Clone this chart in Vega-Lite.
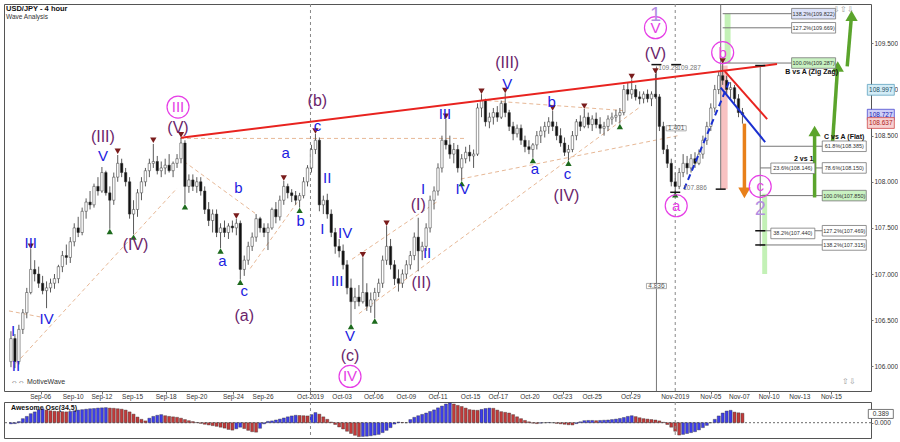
{
"$schema": "https://vega.github.io/schema/vega-lite/v6.json",
"background": "white",
"padding": {"left": 3, "top": 3, "right": 0, "bottom": 0},
"bounds": "flush",
"spacing": 11,
"config": {"font": "Liberation Sans", "view": {"stroke": "#555", "strokeWidth": 1}, "axis": {"labelFont": "Liberation Sans", "grid": false}},
"datasets": {
"bars": [
{"t":0,"o":106.05,"h":106.38,"l":105.99,"c":106.30,"ao":-0.05},
{"t":1,"o":106.30,"h":106.35,"l":105.98,"c":106.05,"ao":-0.04},
{"t":2,"o":106.05,"h":106.45,"l":106.02,"c":106.40,"ao":0.05},
{"t":3,"o":106.40,"h":106.62,"l":106.35,"c":106.58,"ao":0.18},
{"t":4,"o":106.58,"h":106.85,"l":106.52,"c":106.80,"ao":0.28},
{"t":5,"o":106.80,"h":107.27,"l":106.78,"c":107.05,"ao":0.40},
{"t":6,"o":107.05,"h":107.15,"l":106.92,"c":107.00,"ao":0.48},
{"t":7,"o":107.00,"h":107.08,"l":106.85,"c":106.90,"ao":0.58},
{"t":8,"o":106.90,"h":106.98,"l":106.78,"c":106.82,"ao":0.62},
{"t":9,"o":106.82,"h":106.92,"l":106.63,"c":106.85,"ao":0.56},
{"t":10,"o":106.85,"h":106.95,"l":106.80,"c":106.90,"ao":0.53},
{"t":11,"o":106.90,"h":107.00,"l":106.84,"c":106.95,"ao":0.51},
{"t":12,"o":106.95,"h":107.10,"l":106.90,"c":107.08,"ao":0.50},
{"t":13,"o":107.08,"h":107.25,"l":107.02,"c":107.20,"ao":0.49},
{"t":14,"o":107.20,"h":107.32,"l":107.10,"c":107.18,"ao":0.48},
{"t":15,"o":107.18,"h":107.40,"l":107.12,"c":107.35,"ao":0.50},
{"t":16,"o":107.35,"h":107.55,"l":107.30,"c":107.50,"ao":0.53},
{"t":17,"o":107.50,"h":107.62,"l":107.40,"c":107.45,"ao":0.56},
{"t":18,"o":107.45,"h":107.72,"l":107.42,"c":107.68,"ao":0.58},
{"t":19,"o":107.68,"h":107.82,"l":107.60,"c":107.78,"ao":0.60},
{"t":20,"o":107.78,"h":107.90,"l":107.70,"c":107.75,"ao":0.62},
{"t":21,"o":107.75,"h":107.98,"l":107.72,"c":107.95,"ao":0.63},
{"t":22,"o":107.95,"h":108.05,"l":107.85,"c":107.90,"ao":0.65},
{"t":23,"o":107.90,"h":108.16,"l":107.88,"c":108.10,"ao":0.66},
{"t":24,"o":108.10,"h":108.12,"l":107.85,"c":107.88,"ao":0.67},
{"t":25,"o":107.88,"h":107.95,"l":107.49,"c":107.80,"ao":0.65},
{"t":26,"o":107.80,"h":108.10,"l":107.75,"c":108.05,"ao":0.64},
{"t":27,"o":108.05,"h":108.29,"l":108.00,"c":108.20,"ao":0.62},
{"t":28,"o":108.20,"h":108.25,"l":108.05,"c":108.10,"ao":0.60},
{"t":29,"o":108.10,"h":108.15,"l":107.95,"c":108.00,"ao":0.56},
{"t":30,"o":108.00,"h":108.05,"l":107.60,"c":107.65,"ao":0.48},
{"t":31,"o":107.65,"h":107.80,"l":107.43,"c":107.70,"ao":0.38},
{"t":32,"o":107.70,"h":107.92,"l":107.62,"c":107.88,"ao":0.25},
{"t":33,"o":107.88,"h":108.05,"l":107.80,"c":108.00,"ao":0.15},
{"t":34,"o":108.00,"h":108.15,"l":107.95,"c":108.12,"ao":0.08},
{"t":35,"o":108.12,"h":108.25,"l":108.05,"c":108.20,"ao":0.20},
{"t":36,"o":108.20,"h":108.41,"l":108.15,"c":108.22,"ao":0.28},
{"t":37,"o":108.22,"h":108.28,"l":108.08,"c":108.12,"ao":0.33},
{"t":38,"o":108.12,"h":108.22,"l":108.05,"c":108.15,"ao":0.36},
{"t":39,"o":108.15,"h":108.25,"l":108.08,"c":108.18,"ao":0.31},
{"t":40,"o":108.18,"h":108.30,"l":108.10,"c":108.12,"ao":0.28},
{"t":41,"o":108.12,"h":108.22,"l":108.05,"c":108.20,"ao":0.26},
{"t":42,"o":108.20,"h":108.30,"l":108.15,"c":108.25,"ao":0.24},
{"t":43,"o":108.25,"h":108.48,"l":108.20,"c":108.42,"ao":0.20},
{"t":44,"o":108.42,"h":108.45,"l":107.76,"c":107.95,"ao":0.14},
{"t":45,"o":107.95,"h":108.08,"l":107.88,"c":108.02,"ao":0.09},
{"t":46,"o":108.02,"h":108.08,"l":107.90,"c":107.95,"ao":0.05},
{"t":47,"o":107.95,"h":108.05,"l":107.88,"c":108.00,"ao":0.01},
{"t":48,"o":108.00,"h":108.05,"l":107.85,"c":107.90,"ao":-0.03},
{"t":49,"o":107.90,"h":107.95,"l":107.65,"c":107.70,"ao":-0.07},
{"t":50,"o":107.70,"h":107.78,"l":107.52,"c":107.58,"ao":-0.10},
{"t":51,"o":107.58,"h":107.70,"l":107.45,"c":107.65,"ao":-0.13},
{"t":52,"o":107.65,"h":107.70,"l":107.40,"c":107.45,"ao":-0.16},
{"t":53,"o":107.45,"h":107.55,"l":107.28,"c":107.50,"ao":-0.20},
{"t":54,"o":107.50,"h":107.58,"l":107.40,"c":107.45,"ao":-0.24},
{"t":55,"o":107.45,"h":107.55,"l":107.38,"c":107.52,"ao":-0.30},
{"t":56,"o":107.52,"h":107.58,"l":107.45,"c":107.50,"ao":-0.33},
{"t":57,"o":107.50,"h":107.60,"l":107.42,"c":107.55,"ao":-0.27},
{"t":58,"o":107.55,"h":107.58,"l":106.94,"c":107.05,"ao":-0.20},
{"t":59,"o":107.05,"h":107.20,"l":106.98,"c":107.15,"ao":-0.26},
{"t":60,"o":107.15,"h":107.35,"l":107.10,"c":107.30,"ao":-0.34},
{"t":61,"o":107.30,"h":107.45,"l":107.25,"c":107.40,"ao":-0.40},
{"t":62,"o":107.40,"h":107.65,"l":107.35,"c":107.60,"ao":-0.42},
{"t":63,"o":107.60,"h":107.62,"l":107.45,"c":107.50,"ao":-0.25},
{"t":64,"o":107.50,"h":107.55,"l":107.40,"c":107.45,"ao":-0.05},
{"t":65,"o":107.45,"h":107.55,"l":107.26,"c":107.50,"ao":0.06},
{"t":66,"o":107.50,"h":107.72,"l":107.48,"c":107.70,"ao":0.08},
{"t":67,"o":107.70,"h":107.78,"l":107.55,"c":107.62,"ao":0.12},
{"t":68,"o":107.62,"h":107.85,"l":107.58,"c":107.80,"ao":0.16},
{"t":69,"o":107.80,"h":108.01,"l":107.75,"c":107.95,"ao":0.21},
{"t":70,"o":107.95,"h":107.98,"l":107.82,"c":107.88,"ao":0.26},
{"t":71,"o":107.88,"h":107.92,"l":107.78,"c":107.85,"ao":0.30},
{"t":72,"o":107.85,"h":107.90,"l":107.75,"c":107.80,"ao":0.33},
{"t":73,"o":107.80,"h":107.88,"l":107.72,"c":107.85,"ao":0.32},
{"t":74,"o":107.85,"h":108.05,"l":107.82,"c":108.00,"ao":0.31},
{"t":75,"o":108.00,"h":108.18,"l":107.95,"c":108.15,"ao":0.30},
{"t":76,"o":108.15,"h":108.40,"l":108.10,"c":108.35,"ao":0.36},
{"t":77,"o":108.35,"h":108.52,"l":108.30,"c":108.45,"ao":0.45},
{"t":78,"o":108.45,"h":108.48,"l":107.68,"c":107.75,"ao":0.38},
{"t":79,"o":107.75,"h":107.85,"l":107.65,"c":107.80,"ao":0.26},
{"t":80,"o":107.80,"h":107.87,"l":107.60,"c":107.65,"ao":0.15},
{"t":81,"o":107.65,"h":107.70,"l":107.40,"c":107.45,"ao":0.03},
{"t":82,"o":107.45,"h":107.50,"l":107.22,"c":107.30,"ao":-0.08},
{"t":83,"o":107.30,"h":107.38,"l":107.18,"c":107.25,"ao":-0.19},
{"t":84,"o":107.25,"h":107.32,"l":107.05,"c":107.10,"ao":-0.28},
{"t":85,"o":107.10,"h":107.15,"l":106.78,"c":106.85,"ao":-0.38},
{"t":86,"o":106.85,"h":106.95,"l":106.46,"c":106.70,"ao":-0.48},
{"t":87,"o":106.70,"h":106.85,"l":106.62,"c":106.75,"ao":-0.56},
{"t":88,"o":106.75,"h":106.88,"l":106.65,"c":106.70,"ao":-0.62},
{"t":89,"o":106.70,"h":107.18,"l":106.68,"c":106.80,"ao":-0.61},
{"t":90,"o":106.80,"h":106.90,"l":106.60,"c":106.65,"ao":-0.60},
{"t":91,"o":106.65,"h":106.80,"l":106.58,"c":106.72,"ao":-0.58},
{"t":92,"o":106.72,"h":106.85,"l":106.52,"c":106.80,"ao":-0.55},
{"t":93,"o":106.80,"h":106.95,"l":106.75,"c":106.90,"ao":-0.52},
{"t":94,"o":106.90,"h":107.20,"l":106.85,"c":107.15,"ao":-0.44},
{"t":95,"o":107.15,"h":107.52,"l":107.10,"c":107.30,"ao":-0.34},
{"t":96,"o":107.30,"h":107.38,"l":107.05,"c":107.10,"ao":-0.22},
{"t":97,"o":107.10,"h":107.15,"l":106.88,"c":106.95,"ao":-0.06},
{"t":98,"o":106.95,"h":107.05,"l":106.81,"c":106.90,"ao":0.03},
{"t":99,"o":106.90,"h":107.05,"l":106.85,"c":107.00,"ao":0.01},
{"t":100,"o":107.00,"h":107.15,"l":106.95,"c":107.10,"ao":0.00},
{"t":101,"o":107.10,"h":107.25,"l":107.05,"c":107.20,"ao":0.14},
{"t":102,"o":107.20,"h":107.45,"l":107.15,"c":107.40,"ao":0.24},
{"t":103,"o":107.40,"h":107.61,"l":107.03,"c":107.25,"ao":0.31},
{"t":104,"o":107.25,"h":107.35,"l":107.15,"c":107.30,"ao":0.37},
{"t":105,"o":107.30,"h":107.55,"l":107.25,"c":107.50,"ao":0.43},
{"t":106,"o":107.50,"h":107.85,"l":107.45,"c":107.80,"ao":0.50},
{"t":107,"o":107.80,"h":107.95,"l":107.70,"c":107.90,"ao":0.57},
{"t":108,"o":107.90,"h":108.20,"l":107.85,"c":108.15,"ao":0.66},
{"t":109,"o":108.15,"h":108.50,"l":108.10,"c":108.45,"ao":0.74},
{"t":110,"o":108.45,"h":108.68,"l":108.35,"c":108.40,"ao":0.83},
{"t":111,"o":108.40,"h":108.50,"l":108.25,"c":108.30,"ao":0.88},
{"t":112,"o":108.30,"h":108.42,"l":108.20,"c":108.35,"ao":0.83},
{"t":113,"o":108.35,"h":108.40,"l":108.10,"c":108.15,"ao":0.77},
{"t":114,"o":108.15,"h":108.30,"l":108.01,"c":108.25,"ao":0.72},
{"t":115,"o":108.25,"h":108.38,"l":108.20,"c":108.32,"ao":0.65},
{"t":116,"o":108.32,"h":108.40,"l":108.22,"c":108.28,"ao":0.58},
{"t":117,"o":108.28,"h":108.35,"l":108.15,"c":108.30,"ao":0.56},
{"t":118,"o":108.30,"h":108.85,"l":108.28,"c":108.80,"ao":0.55},
{"t":119,"o":108.80,"h":108.95,"l":108.70,"c":108.88,"ao":0.59},
{"t":120,"o":108.88,"h":108.90,"l":108.60,"c":108.65,"ao":0.63},
{"t":121,"o":108.65,"h":108.75,"l":108.58,"c":108.70,"ao":0.65},
{"t":122,"o":108.70,"h":108.80,"l":108.62,"c":108.75,"ao":0.64},
{"t":123,"o":108.75,"h":108.82,"l":108.65,"c":108.70,"ao":0.56},
{"t":124,"o":108.70,"h":108.88,"l":108.68,"c":108.85,"ao":0.49},
{"t":125,"o":108.85,"h":108.96,"l":108.70,"c":108.75,"ao":0.46},
{"t":126,"o":108.75,"h":108.78,"l":108.55,"c":108.60,"ao":0.43},
{"t":127,"o":108.60,"h":108.65,"l":108.45,"c":108.52,"ao":0.36},
{"t":128,"o":108.52,"h":108.62,"l":108.48,"c":108.58,"ao":0.26},
{"t":129,"o":108.58,"h":108.62,"l":108.40,"c":108.45,"ao":0.18},
{"t":130,"o":108.45,"h":108.50,"l":108.32,"c":108.38,"ao":0.10},
{"t":131,"o":108.38,"h":108.45,"l":108.30,"c":108.35,"ao":0.04},
{"t":132,"o":108.35,"h":108.42,"l":108.26,"c":108.40,"ao":-0.02},
{"t":133,"o":108.40,"h":108.55,"l":108.35,"c":108.50,"ao":-0.04},
{"t":134,"o":108.50,"h":108.60,"l":108.42,"c":108.55,"ao":-0.02},
{"t":135,"o":108.55,"h":108.65,"l":108.48,"c":108.60,"ao":0.00},
{"t":136,"o":108.60,"h":108.70,"l":108.52,"c":108.65,"ao":0.01},
{"t":137,"o":108.65,"h":108.77,"l":108.55,"c":108.60,"ao":0.00},
{"t":138,"o":108.60,"h":108.65,"l":108.45,"c":108.50,"ao":-0.03},
{"t":139,"o":108.50,"h":108.58,"l":108.38,"c":108.42,"ao":-0.05},
{"t":140,"o":108.42,"h":108.48,"l":108.28,"c":108.32,"ao":-0.07},
{"t":141,"o":108.32,"h":108.40,"l":108.23,"c":108.35,"ao":-0.09},
{"t":142,"o":108.35,"h":108.55,"l":108.32,"c":108.50,"ao":-0.10},
{"t":143,"o":108.50,"h":108.68,"l":108.45,"c":108.65,"ao":-0.04},
{"t":144,"o":108.65,"h":108.72,"l":108.55,"c":108.60,"ao":0.04},
{"t":145,"o":108.60,"h":108.79,"l":108.58,"c":108.70,"ao":0.09},
{"t":146,"o":108.70,"h":108.75,"l":108.58,"c":108.62,"ao":0.10},
{"t":147,"o":108.62,"h":108.72,"l":108.55,"c":108.68,"ao":0.10},
{"t":148,"o":108.68,"h":108.75,"l":108.58,"c":108.62,"ao":0.09},
{"t":149,"o":108.62,"h":108.70,"l":108.52,"c":108.58,"ao":0.10},
{"t":150,"o":108.58,"h":108.65,"l":108.50,"c":108.60,"ao":0.11},
{"t":151,"o":108.60,"h":108.72,"l":108.55,"c":108.68,"ao":0.12},
{"t":152,"o":108.68,"h":108.75,"l":108.62,"c":108.70,"ao":0.14},
{"t":153,"o":108.70,"h":108.78,"l":108.65,"c":108.72,"ao":0.16},
{"t":154,"o":108.72,"h":108.80,"l":108.63,"c":108.75,"ao":0.19},
{"t":155,"o":108.75,"h":109.05,"l":108.72,"c":109.00,"ao":0.23},
{"t":156,"o":109.00,"h":109.08,"l":108.88,"c":108.95,"ao":0.28},
{"t":157,"o":108.95,"h":109.11,"l":108.90,"c":109.00,"ao":0.31},
{"t":158,"o":109.00,"h":109.05,"l":108.88,"c":108.92,"ao":0.27},
{"t":159,"o":108.92,"h":108.98,"l":108.84,"c":108.90,"ao":0.22},
{"t":160,"o":108.90,"h":108.98,"l":108.85,"c":108.95,"ao":0.18},
{"t":161,"o":108.95,"h":109.00,"l":108.86,"c":108.90,"ao":0.16},
{"t":162,"o":108.90,"h":108.98,"l":108.82,"c":108.95,"ao":0.14},
{"t":163,"o":108.95,"h":109.17,"l":108.90,"c":108.92,"ao":0.12},
{"t":164,"o":108.92,"h":108.95,"l":108.55,"c":108.60,"ao":0.08},
{"t":165,"o":108.60,"h":108.65,"l":108.30,"c":108.35,"ao":0.02},
{"t":166,"o":108.35,"h":108.40,"l":108.15,"c":108.20,"ao":-0.08},
{"t":167,"o":108.20,"h":108.25,"l":107.95,"c":108.00,"ao":-0.20},
{"t":168,"o":108.00,"h":108.10,"l":107.886,"c":107.95,"ao":-0.38},
{"t":169,"o":107.95,"h":108.15,"l":107.92,"c":108.10,"ao":-0.55},
{"t":170,"o":108.10,"h":108.30,"l":108.05,"c":108.20,"ao":-0.52},
{"t":171,"o":108.20,"h":108.28,"l":108.08,"c":108.15,"ao":-0.48},
{"t":172,"o":108.15,"h":108.30,"l":108.10,"c":108.25,"ao":-0.44},
{"t":173,"o":108.25,"h":108.32,"l":108.15,"c":108.20,"ao":-0.40},
{"t":174,"o":108.20,"h":108.35,"l":108.18,"c":108.30,"ao":-0.32},
{"t":175,"o":108.30,"h":108.50,"l":108.25,"c":108.45,"ao":-0.22},
{"t":176,"o":108.45,"h":108.65,"l":108.40,"c":108.60,"ao":-0.12},
{"t":177,"o":108.60,"h":108.85,"l":108.55,"c":108.80,"ao":0.00},
{"t":178,"o":108.80,"h":109.05,"l":108.75,"c":109.00,"ao":0.15},
{"t":179,"o":109.00,"h":109.20,"l":108.95,"c":109.15,"ao":0.30},
{"t":180,"o":109.15,"h":109.287,"l":109.05,"c":109.10,"ao":0.43},
{"t":181,"o":109.10,"h":109.15,"l":108.95,"c":109.00,"ao":0.52},
{"t":182,"o":109.00,"h":109.08,"l":108.90,"c":109.02,"ao":0.55},
{"t":183,"o":109.02,"h":109.05,"l":108.85,"c":108.90,"ao":0.47},
{"t":184,"o":108.90,"h":108.95,"l":108.70,"c":108.75,"ao":0.44},
{"t":185,"o":108.75,"h":108.80,"l":108.63,"c":108.727,"ao":0.42}
],
"dates": [
{"t":7.5,"label":"Sep-06"},{"t":15.75,"label":"Sep-10"},{"t":23,"label":"Sep-12"},{"t":30.75,"label":"Sep-15"},{"t":39.25,"label":"Sep-18"},{"t":47,"label":"Sep-20"},{"t":56.25,"label":"Sep-24"},{"t":63.75,"label":"Sep-26"},{"t":75.75,"label":"Oct-2019"},{"t":83.75,"label":"Oct-03"},{"t":91.75,"label":"Oct-06"},{"t":100,"label":"Oct-09"},{"t":108,"label":"Oct-11"},{"t":116.25,"label":"Oct-15"},{"t":123.25,"label":"Oct-17"},{"t":131.25,"label":"Oct-20"},{"t":139.5,"label":"Oct-23"},{"t":147,"label":"Oct-25"},{"t":156.75,"label":"Oct-29"},{"t":168,"label":"Nov-2019"},{"t":177,"label":"Nov-05"},{"t":184.25,"label":"Nov-07"},{"t":191.75,"label":"Nov-10"},{"t":199.5,"label":"Nov-13"},{"t":207.5,"label":"Nov-15"}
],
"bands": [
{"t":179.5,"t2":181.25,"v":109.26,"v2":107.92,"zone":"retrace"},
{"t":180.5,"t2":182,"v":109.822,"v2":109.287,"zone":"target"},
{"t":190,"t2":191.25,"v":107.87,"v2":107.0,"zone":"target"}
],
"channels": [
{"t":1.25,"v":106.03,"t2":42,"v2":107.93},
{"t":-0.5,"v":106.60,"t2":8,"v2":106.53},
{"t":43.75,"v":108.22,"t2":62,"v2":107.65},
{"t":60.5,"v":107.06,"t2":73.75,"v2":107.86},
{"t":42.75,"v":108.47,"t2":115,"v2":108.47},
{"t":88,"v":106.57,"t2":158.75,"v2":108.80},
{"t":113.75,"v":108.03,"t2":168.75,"v2":108.50},
{"t":120.5,"v":108.88,"t2":155.5,"v2":108.77},
{"t":86.25,"v":107.16,"t2":108,"v2":107.79}
],
"months": [{"t":75.75,"label":"Oct-2019"},{"t":168,"label":"Nov-2019"}],
"fibLines": [
{"t":179.5,"t2":179.5,"v":109.92,"v2":107.92},
{"t":180,"t2":197.5,"v":109.822,"v2":109.822},
{"t":180,"t2":197.5,"v":109.669,"v2":109.669},
{"t":180,"t2":197.5,"v":109.287,"v2":109.287},
{"t":189.5,"t2":189.5,"v":109.26,"v2":107.30},
{"t":189.5,"t2":205.75,"v":108.385,"v2":108.385},
{"t":189.5,"t2":205.75,"v":108.150,"v2":108.150},
{"t":189.5,"t2":205.75,"v":107.850,"v2":107.850},
{"t":189.5,"t2":205.75,"v":107.469,"v2":107.469},
{"t":189.5,"t2":205.75,"v":107.315,"v2":107.315},
{"t":163.25,"t2":163.25,"v":109.25,"v2":105.73}
],
"trend": [
{"t":43,"v":108.478,"t2":193.75,"v2":109.276,"role":"resistance"},
{"t":180.5,"v":109.20,"t2":191.25,"v2":108.68,"role":"resistance"},
{"t":179.5,"v":109.02,"t2":190.75,"v2":108.43,"role":"channel"}
],
"trendDash": [{"t":170.25,"v":107.92,"t2":182,"v2":109.12}],
"arrows": [
{"t":185.5,"v":108.63,"t2":185.5,"v2":107.93,"ht":185.5,"hv":107.88,"dir":"down"},
{"t":203.25,"v":107.83,"t2":203.25,"v2":108.50,"ht":203.25,"hv":108.55,"dir":"up"},
{"t":207.75,"v":108.40,"t2":209.0,"v2":109.20,"ht":209.1,"hv":109.25,"dir":"up"},
{"t":211.5,"v":109.25,"t2":212.5,"v2":109.76,"ht":212.6,"hv":109.80,"dir":"up"}
],
"pivots": [
{"t":5,"v":107.30,"type":"high"},{"t":27,"v":108.33,"type":"high"},{"t":36,"v":108.45,"type":"high"},{"t":43,"v":108.51,"type":"high"},{"t":57,"v":107.63,"type":"high"},{"t":69,"v":108.04,"type":"high"},{"t":77,"v":108.55,"type":"high"},{"t":89,"v":107.21,"type":"high"},{"t":95,"v":107.55,"type":"high"},{"t":110,"v":108.71,"type":"high"},{"t":119,"v":108.98,"type":"high"},{"t":125,"v":108.99,"type":"high"},{"t":137,"v":108.80,"type":"high"},{"t":145,"v":108.82,"type":"high"},{"t":157,"v":109.14,"type":"high"},{"t":163,"v":109.20,"type":"high"},{"t":180,"v":109.31,"type":"high"},
{"t":25,"v":107.46,"type":"low"},{"t":31,"v":107.40,"type":"low"},{"t":44,"v":107.73,"type":"low"},{"t":53,"v":107.25,"type":"low"},{"t":58,"v":106.91,"type":"low"},{"t":73,"v":107.69,"type":"low"},{"t":86,"v":106.43,"type":"low"},{"t":92,"v":106.49,"type":"low"},{"t":114,"v":107.98,"type":"low"},{"t":132,"v":108.23,"type":"low"},{"t":141,"v":108.20,"type":"low"},{"t":154,"v":108.60,"type":"low"},{"t":168,"v":107.86,"type":"low"}
],
"ibeams": [
{"t":189.5,"v":109.26},{"t":189.5,"v":107.469},{"t":189.5,"v":107.315},{"t":179.5,"v":107.92},{"t":168,"v":107.886},{"t":163.25,"v":109.27},{"t":168.25,"v":109.27}
],
"waves": [
{"t":0.5,"v":106.38,"label":"I","degree":"minor"},
{"t":1.25,"v":106.0,"label":"II","degree":"minor"},
{"t":5,"v":107.34,"label":"III","degree":"minor"},
{"t":9,"v":106.51,"label":"IV","degree":"minor"},
{"t":23.25,"v":108.28,"label":"V","degree":"minor"},
{"t":53.5,"v":107.14,"label":"a","degree":"minor"},
{"t":57.5,"v":107.93,"label":"b","degree":"minor"},
{"t":59,"v":106.82,"label":"c","degree":"minor"},
{"t":69.5,"v":108.31,"label":"a","degree":"minor"},
{"t":73.25,"v":107.57,"label":"b","degree":"minor"},
{"t":77.5,"v":108.60,"label":"c","degree":"minor"},
{"t":80,"v":108.04,"label":"II","degree":"minor"},
{"t":78.75,"v":107.49,"label":"I","degree":"minor"},
{"t":84.5,"v":107.44,"label":"IV","degree":"minor"},
{"t":82.5,"v":106.92,"label":"III","degree":"minor"},
{"t":85.75,"v":106.33,"label":"V","degree":"minor"},
{"t":104.25,"v":107.92,"label":"I","degree":"minor"},
{"t":105.25,"v":107.23,"label":"II","degree":"minor"},
{"t":109.75,"v":108.74,"label":"III","degree":"minor"},
{"t":114.25,"v":107.92,"label":"IV","degree":"minor"},
{"t":125.5,"v":109.06,"label":"V","degree":"minor"},
{"t":132.5,"v":108.14,"label":"a","degree":"minor"},
{"t":136.75,"v":108.87,"label":"b","degree":"minor"},
{"t":140.75,"v":108.08,"label":"c","degree":"minor"},
{"t":23.25,"v":108.48,"label":"(III)","degree":"intermediate"},
{"t":31.5,"v":107.31,"label":"(IV)","degree":"intermediate"},
{"t":42.25,"v":108.58,"label":"(V)","degree":"intermediate"},
{"t":59,"v":106.55,"label":"(a)","degree":"intermediate"},
{"t":77.5,"v":108.88,"label":"(b)","degree":"intermediate"},
{"t":85.75,"v":106.11,"label":"(c)","degree":"intermediate"},
{"t":103,"v":107.75,"label":"(I)","degree":"intermediate"},
{"t":103.75,"v":106.90,"label":"(II)","degree":"intermediate"},
{"t":125.5,"v":109.29,"label":"(III)","degree":"intermediate"},
{"t":140.5,"v":107.85,"label":"(IV)","degree":"intermediate"},
{"t":163,"v":109.39,"label":"(V)","degree":"intermediate"},
{"t":42.25,"v":108.81,"label":"III","degree":"primary"},
{"t":85.75,"v":105.89,"label":"IV","degree":"primary"},
{"t":163,"v":109.67,"label":"V","degree":"primary"},
{"t":180,"v":109.40,"label":"b","degree":"primary"},
{"t":168.25,"v":107.74,"label":"a","degree":"primary"},
{"t":189.5,"v":107.95,"label":"c","degree":"primary"},
{"t":163,"v":109.81,"label":"1","degree":"cycle"},
{"t":189.5,"v":107.70,"label":"2","degree":"cycle"}
],
"fibTags": [
{"t":203,"v":109.822,"text":"138.2%(109.822)","ratio":138.2},
{"t":203,"v":109.669,"text":"127.2%(109.669)","ratio":127.2},
{"t":203,"v":109.287,"text":"100.0%(109.287)","ratio":100},
{"t":210.75,"v":108.385,"text":"61.8%(108.385)","ratio":61.8},
{"t":210.75,"v":108.150,"text":"78.6%(108.150)","ratio":78.6},
{"t":210.75,"v":107.850,"text":"100.0%(107.850)","ratio":100},
{"t":210.75,"v":107.469,"text":"127.2%(107.469)","ratio":127.2},
{"t":210.75,"v":107.315,"text":"138.2%(107.315)","ratio":138.2},
{"t":197.75,"v":108.146,"text":"23.6%(108.146)","ratio":23.6},
{"t":197.75,"v":107.440,"text":"38.2%(107.440)","ratio":38.2}
],
"headings": [
{"t":202.5,"v":109.19,"text":"B vs A (Zig Zag)"},
{"t":200.5,"v":108.245,"text":"2 vs 1"},
{"t":210.75,"v":108.485,"text":"C vs A (Flat)"}
],
"notes": [
{"t":166.25,"v":109.235,"text":"109.28"},
{"t":171.5,"v":109.235,"text":"109.287"},
{"t":173,"v":107.93,"text":"107.886"}
],
"measures": [
{"t":168.25,"v":108.58,"text":"1.401"},
{"t":163.25,"v":106.87,"text":"4.836"}
],
"priceTags": [
{"t":220,"v":108.997,"text":"108.997","series":"high"},
{"t":220,"v":108.727,"text":"108.727","series":"last"},
{"t":220,"v":108.637,"text":"108.637","series":"low"}
],
"misc": [
{"t":0,"v":105.83,"text":"⇔⇔ MotiveWave","align":"left"},
{"t":210.5,"v":109.86,"text":"⇩⇧⇩","align":"center"},
{"t":212,"v":105.83,"text":"⇧⇩","align":"center"}
]
},
"vconcat": [
{
"width": 867,
"height": 387,
"title": {"text": "USD/JPY - 4 hour", "subtitle": "Wave Analysis", "anchor": "start", "offset": -16.5, "dx": 2, "fontSize": 7.5, "fontWeight": "bold", "color": "#111", "subtitleFontSize": 6.5, "subtitleColor": "#333", "subtitlePadding": 1, "font": "Liberation Sans", "subtitleFont": "Liberation Sans"},
"resolve": {"scale": {"color": "independent", "fill": "independent", "stroke": "independent"}},
"layer": [
{"data": {"name": "bands"}, "mark": {"type": "rect", "opacity": 0.8},
 "encoding": {
  "x": {"field": "t", "type": "quantitative", "scale": {"domain": [-0.5, 216.25], "nice": false, "zero": false},
        "axis": {"title": null, "orient": "bottom", "values": [7.5,15.75,23,30.75,39.25,47,56.25,63.75,75.75,83.75,91.75,100,108,116.25,123.25,131.25,139.5,147,156.75,168,177,184.25,191.75,199.5,207.5],
                 "labels": false, "tickColor": "#777", "tickSize": 3, "domain": false, "grid": false}},
  "x2": {"field": "t2"},
  "y": {"field": "v", "type": "quantitative", "scale": {"domain": [105.732, 109.927], "nice": false, "zero": false},
        "axis": {"title": null, "orient": "right", "values": [106,106.25,106.5,106.75,107,107.25,107.5,107.75,108,108.25,108.5,108.75,109,109.25,109.5,109.75], "format": ".3f", "labelFontSize": 6.5, "labelColor": "#333", "tickColor": "#777", "tickSize": 2, "labelPadding": 1, "domain": false, "grid": false}},
  "y2": {"field": "v2"},
  "color": {"field": "zone", "type": "nominal", "scale": {"domain": ["retrace", "target"], "range": ["#f6b3b3", "#b4eea4"]}, "legend": null}}},
{"data": {"name": "channels"}, "mark": {"type": "rule", "color": "#e7b896", "strokeDash": [4, 3], "strokeWidth": 1},
 "encoding": {"x": {"field": "t", "type": "quantitative"}, "x2": {"field": "t2"}, "y": {"field": "v", "type": "quantitative"}, "y2": {"field": "v2"}}},
{"data": {"name": "months"}, "mark": {"type": "rule", "color": "#888", "strokeDash": [3, 3], "strokeWidth": 1},
 "encoding": {"x": {"field": "t", "type": "quantitative"}}},
{"data": {"name": "fibLines"}, "mark": {"type": "rule", "color": "#777", "strokeWidth": 1},
 "encoding": {"x": {"field": "t", "type": "quantitative"}, "x2": {"field": "t2"}, "y": {"field": "v", "type": "quantitative"}, "y2": {"field": "v2"}}},
{"data": {"name": "bars"}, "mark": {"type": "rule", "color": "#5a5a5a", "strokeWidth": 1},
 "encoding": {"x": {"field": "t", "type": "quantitative"}, "y": {"field": "l", "type": "quantitative"}, "y2": {"field": "h"}}},
{"data": {"name": "bars"}, "mark": {"type": "bar", "size": 2.4, "stroke": "#333", "strokeWidth": 0.5},
 "encoding": {"x": {"field": "t", "type": "quantitative"}, "y": {"field": "o", "type": "quantitative"}, "y2": {"field": "c"},
  "fill": {"condition": {"test": "datum.c >= datum.o", "value": "#ffffff"}, "value": "#111111"}}},
{"data": {"name": "trend"}, "mark": {"type": "rule", "strokeWidth": 2},
 "encoding": {"x": {"field": "t", "type": "quantitative"}, "x2": {"field": "t2"}, "y": {"field": "v", "type": "quantitative"}, "y2": {"field": "v2"},
  "color": {"field": "role", "type": "nominal", "scale": {"domain": ["resistance", "channel"], "range": ["#e8231f", "#1a2fd0"]}, "legend": null}}},
{"data": {"name": "trendDash"}, "mark": {"type": "rule", "strokeWidth": 2, "color": "#1a2fd0", "strokeDash": [6, 4]},
 "encoding": {"x": {"field": "t", "type": "quantitative"}, "x2": {"field": "t2"}, "y": {"field": "v", "type": "quantitative"}, "y2": {"field": "v2"}}},
{"data": {"name": "arrows"}, "mark": {"type": "rule", "strokeWidth": 3.5},
 "encoding": {"x": {"field": "t", "type": "quantitative"}, "x2": {"field": "t2"}, "y": {"field": "v", "type": "quantitative"}, "y2": {"field": "v2"},
  "stroke": {"field": "dir", "type": "nominal", "scale": {"domain": ["down", "up"], "range": ["#e8801a", "#5ba42c"]}, "legend": null}}},
{"data": {"name": "arrows"}, "mark": {"type": "point", "filled": true, "size": 150, "opacity": 1},
 "encoding": {"x": {"field": "ht", "type": "quantitative"}, "y": {"field": "hv", "type": "quantitative"},
  "shape": {"field": "dir", "type": "nominal", "scale": {"domain": ["down", "up"], "range": ["triangle-down", "triangle-up"]}, "legend": null},
  "fill": {"field": "dir", "type": "nominal", "scale": {"domain": ["down", "up"], "range": ["#e8801a", "#5ba42c"]}, "legend": null}}},
{"data": {"name": "pivots"}, "transform": [{"filter": "datum.type === 'high'"}], "mark": {"type": "point", "shape": "triangle-down", "filled": true, "size": 40, "color": "#7a1c1c", "opacity": 1},
 "encoding": {"x": {"field": "t", "type": "quantitative"}, "y": {"field": "v", "type": "quantitative"}}},
{"data": {"name": "pivots"}, "transform": [{"filter": "datum.type === 'low'"}], "mark": {"type": "point", "shape": "triangle-up", "filled": true, "size": 40, "color": "#1d6a1d", "opacity": 1},
 "encoding": {"x": {"field": "t", "type": "quantitative"}, "y": {"field": "v", "type": "quantitative"}}},
{"data": {"name": "ibeams"}, "mark": {"type": "tick", "orient": "horizontal", "size": 10, "thickness": 1.5, "color": "#111", "opacity": 1},
 "encoding": {"x": {"field": "t", "type": "quantitative"}, "y": {"field": "v", "type": "quantitative"}}},
{"data": {"name": "waves"}, "transform": [{"filter": "datum.degree === 'primary'"}], "mark": {"type": "point", "shape": "circle", "size": 484, "filled": false, "stroke": "#e63ee6", "strokeWidth": 1.2, "opacity": 1},
 "encoding": {"x": {"field": "t", "type": "quantitative"}, "y": {"field": "v", "type": "quantitative"}}},
{"data": {"name": "waves"}, "transform": [{"filter": "datum.degree === 'minor'"}], "mark": {"type": "text", "fontSize": 15, "color": "#1c1ce0", "align": "center", "baseline": "middle"},
 "encoding": {"x": {"field": "t", "type": "quantitative"}, "y": {"field": "v", "type": "quantitative"}, "text": {"field": "label"}}},
{"data": {"name": "waves"}, "transform": [{"filter": "datum.degree === 'intermediate'"}], "mark": {"type": "text", "fontSize": 16, "color": "#6b1f6b", "align": "center", "baseline": "middle"},
 "encoding": {"x": {"field": "t", "type": "quantitative"}, "y": {"field": "v", "type": "quantitative"}, "text": {"field": "label"}}},
{"data": {"name": "waves"}, "transform": [{"filter": "datum.degree === 'primary'"}], "mark": {"type": "text", "fontSize": 15, "color": "#e63ee6", "align": "center", "baseline": "middle"},
 "encoding": {"x": {"field": "t", "type": "quantitative"}, "y": {"field": "v", "type": "quantitative"}, "text": {"field": "label"}}},
{"data": {"name": "waves"}, "transform": [{"filter": "datum.degree === 'cycle'"}], "mark": {"type": "text", "fontSize": 20, "color": "#b48ee2", "align": "center", "baseline": "middle"},
 "encoding": {"x": {"field": "t", "type": "quantitative"}, "y": {"field": "v", "type": "quantitative"}, "text": {"field": "label"}}},
{"data": {"name": "fibTags"}, "mark": {"type": "point", "shape": "M-1,-0.24L1,-0.24L1,0.24L-1,0.24Z", "size": 1936, "filled": true, "stroke": "#777", "strokeWidth": 0.8, "opacity": 1},
 "encoding": {"x": {"field": "t", "type": "quantitative"}, "y": {"field": "v", "type": "quantitative"},
  "fill": {"condition": [{"test": "datum.ratio === 100", "value": "#c9f2c2"}, {"test": "datum.v > 109.8", "value": "#dde3fa"}], "value": "#ffffff"}}},
{"data": {"name": "fibTags"}, "mark": {"type": "text", "fontSize": 5.5, "color": "#333", "align": "center", "baseline": "middle"},
 "encoding": {"x": {"field": "t", "type": "quantitative"}, "y": {"field": "v", "type": "quantitative"}, "text": {"field": "text"}}},
{"data": {"name": "headings"}, "mark": {"type": "text", "fontSize": 7, "fontWeight": "bold", "color": "#111", "align": "center", "baseline": "middle"},
 "encoding": {"x": {"field": "t", "type": "quantitative"}, "y": {"field": "v", "type": "quantitative"}, "text": {"field": "text"}}},
{"data": {"name": "notes"}, "mark": {"type": "text", "fontSize": 6.5, "color": "#777", "align": "center", "baseline": "middle"},
 "encoding": {"x": {"field": "t", "type": "quantitative"}, "y": {"field": "v", "type": "quantitative"}, "text": {"field": "text"}}},
{"data": {"name": "measures"}, "mark": {"type": "point", "shape": "M-1,-0.26L1,-0.26L1,0.26L-1,0.26Z", "size": 400, "filled": true, "fill": "#ffffff", "stroke": "#999", "strokeWidth": 0.8, "opacity": 1},
 "encoding": {"x": {"field": "t", "type": "quantitative"}, "y": {"field": "v", "type": "quantitative"}}},
{"data": {"name": "measures"}, "mark": {"type": "text", "fontSize": 6.5, "color": "#555", "align": "center", "baseline": "middle"},
 "encoding": {"x": {"field": "t", "type": "quantitative"}, "y": {"field": "v", "type": "quantitative"}, "text": {"field": "text"}}},
{"data": {"name": "priceTags"}, "mark": {"type": "point", "shape": "M-1,-0.4L1,-0.4L1,0.4L-1,0.4Z", "size": 729, "filled": true, "strokeWidth": 0.8, "opacity": 1},
 "encoding": {"x": {"field": "t", "type": "quantitative"}, "y": {"field": "v", "type": "quantitative"},
  "fill": {"field": "series", "type": "nominal", "scale": {"domain": ["high", "last", "low"], "range": ["#d3ecf6", "#cfcff7", "#f7d0d0"]}, "legend": null},
  "stroke": {"field": "series", "type": "nominal", "scale": {"domain": ["high", "last", "low"], "range": ["#5fa2c0", "#4a4ad0", "#d04a4a"]}, "legend": null}}},
{"data": {"name": "priceTags"}, "mark": {"type": "text", "fontSize": 6.5, "align": "center", "baseline": "middle"},
 "encoding": {"x": {"field": "t", "type": "quantitative"}, "y": {"field": "v", "type": "quantitative"}, "text": {"field": "text"},
  "color": {"field": "series", "type": "nominal", "scale": {"domain": ["high", "last", "low"], "range": ["#1d4d66", "#2020b0", "#b02020"]}, "legend": null}}},
{"data": {"name": "dates"}, "mark": {"type": "text", "fontSize": 6.5, "color": "#333", "align": "center", "baseline": "middle"},
 "encoding": {"x": {"field": "t", "type": "quantitative"}, "y": {"datum": 105.665, "type": "quantitative"}, "text": {"field": "label"}}},
{"data": {"name": "misc"}, "transform": [{"filter": "datum.align === 'left'"}], "mark": {"type": "text", "fontSize": 7, "color": "#333", "align": "left", "baseline": "middle"},
 "encoding": {"x": {"field": "t", "type": "quantitative"}, "y": {"field": "v", "type": "quantitative"}, "text": {"field": "text"}}},
{"data": {"name": "misc"}, "transform": [{"filter": "datum.align === 'center'"}], "mark": {"type": "text", "fontSize": 8, "color": "#999", "align": "center", "baseline": "middle"},
 "encoding": {"x": {"field": "t", "type": "quantitative"}, "y": {"field": "v", "type": "quantitative"}, "text": {"field": "text"}}}
]
},
{
"width": 867,
"height": 36,
"layer": [
{"data": {"values": [{"level": 0}]}, "mark": {"type": "rule", "color": "#444", "strokeDash": [2, 2], "strokeWidth": 0.8},
 "encoding": {"y": {"field": "level", "type": "quantitative", "scale": {"domain": [-0.68, 0.92], "nice": false, "zero": false},
   "axis": {"title": null, "orient": "right", "values": [0], "format": ".3f", "labelFontSize": 6.5, "labelColor": "#333", "tickColor": "#777", "tickSize": 2, "labelPadding": 1, "domain": false, "grid": false}}}},
{"data": {"name": "bars"},
 "transform": [{"window": [{"op": "lag", "field": "ao", "as": "prev"}], "sort": [{"field": "t"}]}],
 "mark": {"type": "bar", "size": 3, "strokeWidth": 0.4, "stroke": "#333"},
 "encoding": {"x": {"field": "t", "type": "quantitative", "scale": {"domain": [-0.5, 216.25], "nice": false, "zero": false}, "axis": null},
  "y": {"field": "ao", "type": "quantitative"}, "y2": {"datum": 0},
  "fill": {"condition": {"test": "datum.prev == null || datum.ao >= datum.prev", "value": "#3d3dea"}, "value": "#c23a3a"}}},
{"data": {"name": "months"}, "mark": {"type": "rule", "color": "#888", "strokeDash": [3, 3], "strokeWidth": 1},
 "encoding": {"x": {"field": "t", "type": "quantitative"}}},
{"data": {"values": [{"t": 0, "v": 0.66, "text": "Awesome Osc(34,5)"}]}, "mark": {"type": "text", "fontSize": 7, "fontWeight": "bold", "color": "#111", "align": "left", "baseline": "middle"},
 "encoding": {"x": {"field": "t", "type": "quantitative"}, "y": {"field": "v", "type": "quantitative"}, "text": {"field": "text"}}},
{"data": {"values": [{"t": 220, "v": 0.389, "text": "0.389"}]}, "mark": {"type": "point", "shape": "M-1,-0.36L1,-0.36L1,0.36L-1,0.36Z", "size": 625, "filled": true, "fill": "#ffffff", "stroke": "#555", "strokeWidth": 0.8, "opacity": 1},
 "encoding": {"x": {"field": "t", "type": "quantitative"}, "y": {"field": "v", "type": "quantitative"}}},
{"data": {"values": [{"t": 220, "v": 0.389, "text": "0.389"}]}, "mark": {"type": "text", "fontSize": 6.5, "color": "#333", "align": "center", "baseline": "middle"},
 "encoding": {"x": {"field": "t", "type": "quantitative"}, "y": {"field": "v", "type": "quantitative"}, "text": {"field": "text"}}}
]
}
]
}
